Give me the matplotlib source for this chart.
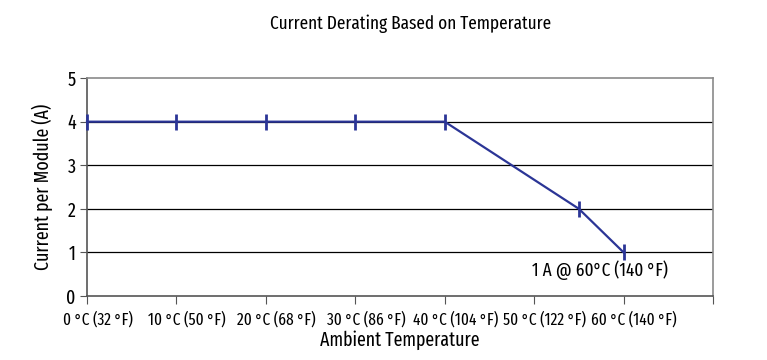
import matplotlib
matplotlib.use("Agg")
import matplotlib.pyplot as plt

plt.rcParams['font.family'] = ['Fira Sans Extra Condensed', 'DejaVu Sans']

temps_c = [0, 10, 20, 30, 40, 55, 60]
current_a = [4, 4, 4, 4, 4, 2, 1]

tick_temps = [0, 10, 20, 30, 40, 50, 60, 70]
tick_labels = ['0 °C (32 °F)', '10 °C (50 °F)', '20 °C (68 °F)', '30 °C (86 °F)',
               '40 °C (104 °F)', '50 °C (122 °F)', '60 °C (140 °F)', '70 °C (158 °F)']
y_ticks = [0, 1, 2, 3, 4, 5]

fig = plt.figure(figsize=(7.67, 3.6), dpi=100)
ax = fig.add_axes([0.1134, 0.178, 0.8162, 0.605])

for y in y_ticks[1:-1]:
    ax.axhline(y, color='black', lw=0.9, zorder=1)

line_col = '#2b3596'
ax.plot(temps_c, current_a, color=line_col, lw=1.6, marker='|', ms=11, mew=2, zorder=3,
        clip_on=False)

ax.text(57.4, 0.6, '1 A @ 60°C (140 °F)', ha='center', va='center', fontsize=13.5)

# tick marks on the majors, labels on minors nudged a bit to the right
ax.set_xticks(tick_temps)
ax.set_xticklabels([])
ax.set_xticks([t + 1.2 for t in tick_temps], minor=True)
ax.set_xticklabels(tick_labels, minor=True, fontsize=12)
ax.set_yticks(y_ticks)
ax.set_xlim(0, 70)
ax.set_ylim(0, 5)
ax.tick_params(axis='y', labelsize=14, length=5, color='#555555', pad=3)
ax.tick_params(axis='x', which='major', length=6, color='#555555')
ax.tick_params(axis='x', which='minor', length=0, pad=11)

for s in ax.spines.values():
    s.set_color('#8a8a8a')
    s.set_linewidth(1.2)
ax.spines['left'].set_color('#555555')
ax.spines['bottom'].set_color('#555555')

ax.set_ylabel('Current per Module (A)', fontsize=14, labelpad=10)
ax.set_xlabel('Ambient Temperature', fontsize=14, labelpad=2)
fig.text(0.535, 0.935, 'Current Derating Based on Temperature', ha='center', va='center',
         fontsize=13.5)

fig.savefig('out.png', dpi=100)
